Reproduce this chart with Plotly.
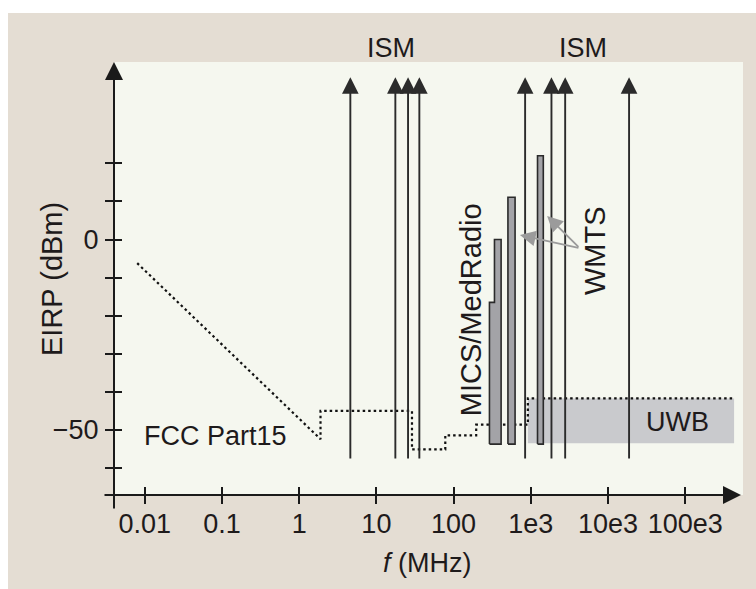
import numpy as np
import plotly.graph_objects as go

# ---------------- data ----------------
x_tick_vals = [0.01, 0.1, 1, 10, 100, 1e3, 1e4, 1e5]
x_tick_text = ["0.01", "0.1", "1", "10", "100", "1e3", "10e3", "100e3"]
y_tick_vals = [-60, -50, -40, -30, -20, -10, 0, 10, 20]
y_tick_text = ["", "\u221250", "", "", "", "", "0", "", ""]

# ISM allocations (vertical arrows), MHz
ism_freq = [4.6, 17.6, 25.7, 36, 843, 1849, 2782, 18700]
ism_bottom = -57.9
ism_top = 42.6

# FCC Part 15 limit (dotted), MHz / dBm
fcc_freq = [0.008, 1.89, 1.89, 28.9, 28.9, 78, 78, 196, 196, 915, 915, 428000]
fcc_eirp = [-6.2, -52.4, -45.0, -45.0, -55.1, -55.1, -51.4, -51.4, -48.6, -48.6, -41.7, -41.7]

# MICS/MedRadio band (stepped), MHz / dBm
mics_edges = [291, 338, 412]
mics_tops = [-16.5, 0.0]
# WMTS bands
wmts_lo = [505, 1220]
wmts_hi = [625, 1450]
wmts_top = [11.1, 22.0]
band_bottom = -53.7

# UWB band
uwb_lo, uwb_hi = 915, 428000
uwb_top, uwb_bottom = -41.7, -53.5

# WMTS pointer arrows (tail -> heads), MHz / dBm
wmts_tail = (4320, -2.3)
wmts_heads = [(722, 1.2), (1626, 6.2)]

# ---------------- style ----------------
FONT = "Liberation Sans, Arial, Helvetica, sans-serif"
TXT = "#1e1a1b"
BEIGE = "#e4ddd3"
PLOTBG = "#f5f7ef"
X_RANGE = [-2.3975, 5.747]
Y_RANGE = [-67.06, 46.59]

fig = go.Figure()

# UWB band
fig.add_trace(go.Scatter(
    x=[uwb_lo, uwb_hi, uwb_hi, uwb_lo, uwb_lo],
    y=[uwb_bottom, uwb_bottom, uwb_top, uwb_top, uwb_bottom],
    mode="lines", fill="toself", fillcolor="#c9cacd",
    line=dict(width=0), hoverinfo="skip", showlegend=False))

# FCC Part 15 dotted limit
fig.add_trace(go.Scatter(
    x=fcc_freq, y=fcc_eirp, mode="lines",
    line=dict(color="#111111", width=2.2, dash="2.5px,3px"),
    hoverinfo="skip", showlegend=False))

# MICS/MedRadio stepped bar
e0, e1, e2 = mics_edges
t0, t1 = mics_tops
fig.add_trace(go.Scatter(
    x=[e0, e0, e1, e1, e2, e2, e0],
    y=[band_bottom, t0, t0, t1, t1, band_bottom, band_bottom],
    mode="lines", fill="toself", fillcolor="#a3a3a7",
    line=dict(color="#2a2a2a", width=1.6), hoverinfo="skip", showlegend=False))

# WMTS bars
for lo, hi, top in zip(wmts_lo, wmts_hi, wmts_top):
    fig.add_trace(go.Scatter(
        x=[lo, hi, hi, lo, lo],
        y=[band_bottom, band_bottom, top, top, band_bottom],
        mode="lines", fill="toself", fillcolor="#a3a3a7",
        line=dict(color="#2a2a2a", width=1.6), hoverinfo="skip", showlegend=False))

# dummy trace for the overlay (inside-tick) axes
fig.add_trace(go.Scatter(x=[1], y=[0], xaxis="x2", yaxis="y2", mode="markers",
                         marker=dict(opacity=0), hoverinfo="skip", showlegend=False))

annotations = []

# ISM arrows
for f in ism_freq:
    lf = float(np.log10(f))
    annotations.append(dict(
        x=lf, y=ism_top, xref="x", yref="y",
        ax=lf, ay=ism_bottom, axref="x", ayref="y",
        text="", showarrow=True, arrowhead=2, arrowsize=1.75, arrowwidth=1.9,
        arrowcolor="#2b2b2b", standoff=0))

# WMTS pointer arrows
for hf, hv in wmts_heads:
    annotations.append(dict(
        x=float(np.log10(hf)), y=hv, xref="x", yref="y",
        ax=float(np.log10(wmts_tail[0])), ay=wmts_tail[1], axref="x", ayref="y",
        text="", showarrow=True, arrowhead=2, arrowsize=1.75, arrowwidth=1.8,
        arrowcolor="#9b9b9b", standoff=0))

# axis arrows (x: 103->741 px, y: 510->62 px)
annotations.append(dict(
    x=(741 - 114) / 629, y=0, xref="paper", yref="paper",
    ax=-(741 - 103), ay=0, text="", showarrow=True,
    arrowhead=2, arrowsize=1.8, arrowwidth=2, arrowcolor="#1a1a1a", standoff=0))
annotations.append(dict(
    x=0, y=1, xref="paper", yref="paper",
    ax=0, ay=(510 - 62), text="", showarrow=True,
    arrowhead=2, arrowsize=1.8, arrowwidth=2, arrowcolor="#1a1a1a", standoff=0))

# text labels
def lab(text, x, y, xref="x", yref="y", size=27, angle=0, xanchor="center", yanchor="middle"):
    annotations.append(dict(text=text, x=x, y=y, xref=xref, yref=yref,
                            showarrow=False, textangle=angle,
                            xanchor=xanchor, yanchor=yanchor,
                            font=dict(family=FONT, size=size, color=TXT)))

lab("ISM", 1.19, (495 - 48) / 433, yref="paper")
lab("ISM", 3.677, (495 - 48) / 433, yref="paper")
lab("FCC Part15", -2.04, -51.6, xanchor="left")
lab("UWB", 4.905, -47.9)
lab("MICS/MedRadio", 2.227, -18.5, size=29, angle=-90)
lab("WMTS", 3.829, -2.8, size=29, angle=-90)
lab("EIRP (dBm)", (52 - 114) / 629, (495 - 279) / 433, xref="paper", yref="paper",
    size=29, angle=-90)
lab("<i>f</i> (MHz)", (427 - 114) / 629, (495 - 563) / 433, xref="paper", yref="paper")

shapes = [
    # white strips at top and left of the page
    dict(type="rect", xref="paper", yref="paper", x0=-0.3, x1=1.1,
         y0=(495 - 13) / 433, y1=1.2, fillcolor="white", line=dict(width=0), layer="below"),
    dict(type="rect", xref="paper", yref="paper", x0=-0.3, x1=(8 - 114) / 629,
         y0=-0.3, y1=1.2, fillcolor="white", line=dict(width=0), layer="below"),
]

tickfont = dict(family=FONT, size=27, color=TXT)
fig.update_layout(
    width=756, height=589,
    margin=dict(l=114, r=13, t=62, b=94, pad=0),
    paper_bgcolor=BEIGE, plot_bgcolor=PLOTBG,
    showlegend=False,
    annotations=annotations, shapes=shapes,
    xaxis=dict(type="log", range=X_RANGE, tickvals=x_tick_vals, ticktext=x_tick_text,
               ticks="outside", ticklen=8, tickwidth=1.6, tickcolor="#1a1a1a",
               showgrid=False, zeroline=False, showline=False, tickfont=tickfont,
               ticklabelstandoff=-3, fixedrange=True),
    yaxis=dict(range=Y_RANGE, tickvals=y_tick_vals, ticktext=y_tick_text,
               ticks="outside", ticklen=8, tickwidth=1.6, tickcolor="#1a1a1a",
               showgrid=False, zeroline=False, showline=False, tickfont=tickfont,
               ticklabelstandoff=1, fixedrange=True),
    xaxis2=dict(type="log", range=X_RANGE, overlaying="x", anchor="y", side="bottom",
                tickvals=x_tick_vals, ticks="inside", ticklen=8, tickwidth=1.6,
                tickcolor="#1a1a1a", showticklabels=False, showgrid=False,
                zeroline=False, showline=False),
    yaxis2=dict(range=Y_RANGE, overlaying="y", anchor="x", side="left",
                tickvals=y_tick_vals, ticks="inside", ticklen=8, tickwidth=1.6,
                tickcolor="#1a1a1a", showticklabels=False, showgrid=False,
                zeroline=False, showline=False),
)

fig.write_html("out.html")
